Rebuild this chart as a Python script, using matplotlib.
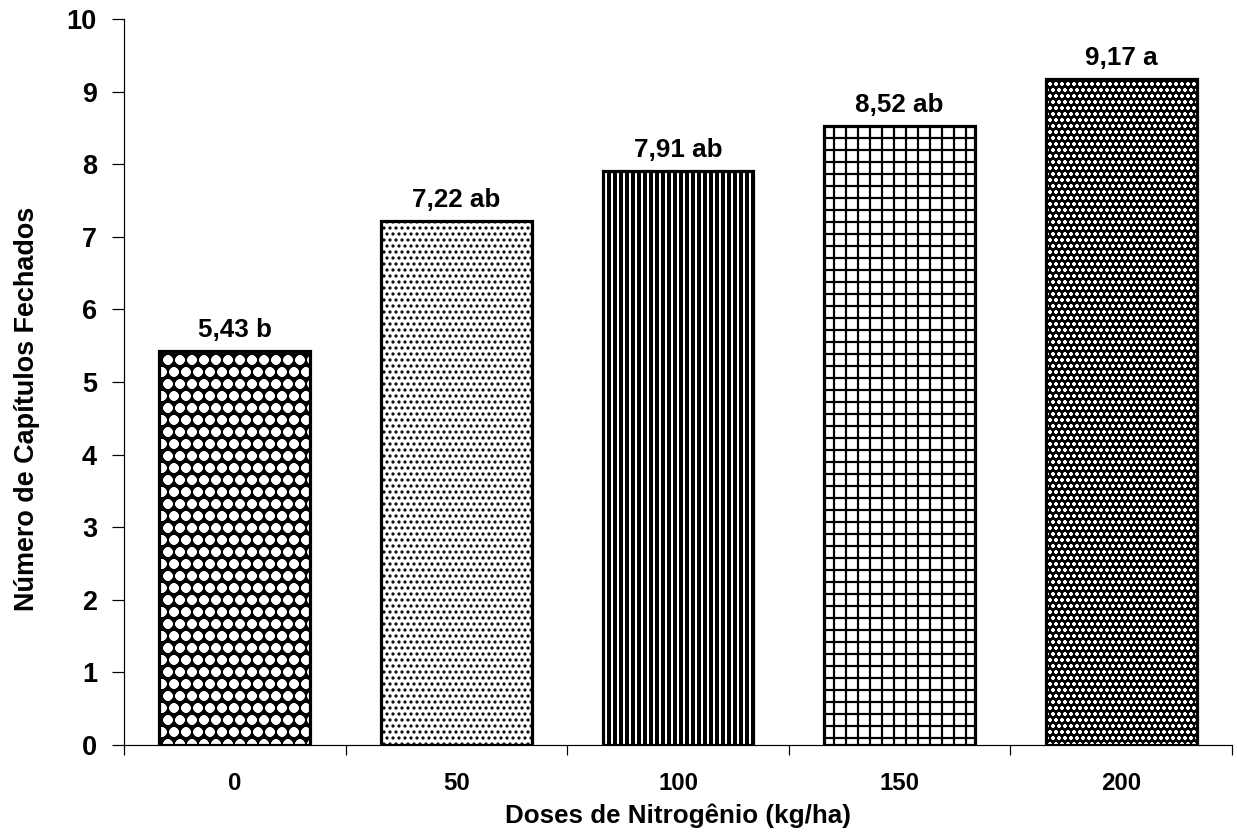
import numpy as np
import matplotlib
matplotlib.use("Agg")
import matplotlib.pyplot as plt
from matplotlib.ticker import FixedLocator

# Nitrogen doses and mean number of closed flower heads per dose
doses = ["0", "50", "100", "150", "200"]
capitulos = [5.43, 7.22, 7.91, 8.52, 9.17]
letras = ["b", "ab", "ab", "ab", "a"]

# fill style per bar: (face colour, hatch colour, hatch, hatch linewidth)
estilos = [
    ("black", "white", "o", 4.6),
    ("white", "black", "..", 2.0),
    ("white", "black", "||", 4.0),
    ("white", "black", "+", 2.2),
    ("black", "white", "oo", 1.1),
]

plt.rcParams["font.family"] = ["Liberation Sans", "DejaVu Sans"]
plt.rcParams["font.weight"] = "bold"

DPI = 72
fig = plt.figure(figsize=(1237 / DPI, 834 / DPI), dpi=DPI)
ax = fig.add_axes([124 / 1237, 1 - 745 / 834, (1232 - 124) / 1237, (745 - 19) / 834])

x = np.arange(len(doses))
largura = 0.68

for i, (face, cor_hatch, hatch, lw_hatch) in enumerate(estilos):
    with plt.rc_context({"hatch.linewidth": lw_hatch}):
        b = ax.bar(x[i], capitulos[i], width=largura, color=face,
                   edgecolor=cor_hatch, hatch=hatch, linewidth=0, zorder=2)
    for p in b.patches:
        if hasattr(p, "set_hatch_linewidth"):
            p.set_hatch_linewidth(lw_hatch)

# bar outlines drawn on top of the hatching
ax.bar(x, capitulos, width=largura, fill=False, edgecolor="black",
       linewidth=3.2, zorder=3)

for xi, v, l in zip(x, capitulos, letras):
    rotulo = f"{v:.2f}".replace(".", ",") + " " + l
    ax.annotate(rotulo, (xi, v), xytext=(0, 9), textcoords="offset points",
                ha="center", va="bottom", fontsize=26, fontweight="bold")

ax.set_xlim(-0.5, len(doses) - 0.5)
ax.set_ylim(0, 10)
ax.set_yticks(range(0, 11))
ax.set_xticks(x)
ax.set_xticklabels(doses)
ax.xaxis.set_minor_locator(FixedLocator(np.arange(-0.5, len(doses), 1.0)))

ax.tick_params(axis="x", which="major", length=0, pad=27, labelsize=24)
ax.tick_params(axis="x", which="minor", length=10, width=1.2, direction="out")
ax.tick_params(axis="y", length=12, width=1.2, direction="out", pad=15,
               labelsize=27)

for s in ("top", "right"):
    ax.spines[s].set_visible(False)
ax.spines["left"].set_linewidth(1.2)
ax.spines["bottom"].set_linewidth(1.2)

ax.set_xlabel("Doses de Nitrogênio (kg/ha)", fontsize=26, fontweight="bold")
ax.set_ylabel("Número de Capítulos Fechados", fontsize=27, fontweight="bold")
ax.xaxis.set_label_coords(0.5, -0.08)
ax.yaxis.set_label_coords(-0.076, 0.463)

fig.savefig("out.png", dpi=DPI, facecolor="white")
